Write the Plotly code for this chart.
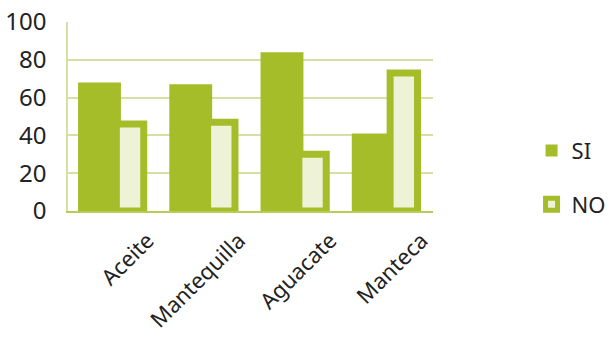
import plotly.graph_objects as go

categories = ["Aceite", "Mantequilla", "Aguacate", "Manteca"]
si_values = [68, 67, 84, 41]
no_values = [46, 47, 30, 73]
y_ticks = [0, 20, 40, 60, 80, 100]

GREEN = "#a6bd2a"
LIGHT = "#eef2d6"
GRID = "#d6e0a3"
FONT = "Noto Sans"

fig = go.Figure()
fig.add_trace(go.Bar(
    x=categories, y=si_values, name="SI",
    marker=dict(color=GREEN, line=dict(width=0)),
    width=0.47, offset=-0.39, legendgroup="si",
))
fig.add_trace(go.Bar(
    x=categories, y=no_values, name="NO",
    marker=dict(color=LIGHT, line=dict(color=GREEN, width=7)),
    width=0.30, offset=0.03, legendgroup="no",
))

fig.update_layout(
    width=614, height=340,
    margin=dict(l=68, r=181, t=22, b=129, autoexpand=False),
    paper_bgcolor="white", plot_bgcolor="white",
    barmode="overlay",
    showlegend=True,
    legend=dict(
        x=1.27, y=0.43, xanchor="left", yanchor="top",
        font=dict(family=FONT, size=22, color="#222"),
        tracegroupgap=22, itemwidth=30,
        bgcolor="rgba(0,0,0,0)",
    ),
    font=dict(family=FONT, color="#222"),
)
fig.update_yaxes(
    range=[0, 100], tickvals=y_ticks,
    showgrid=True, gridcolor=GRID, gridwidth=1.5,
    zeroline=False, automargin=False,
    showline=True, linecolor=GRID, linewidth=1.5,
    tickfont=dict(family=FONT, size=24, color="#222"),
    ticks="", ticklabelstandoff=15,
)
fig.update_xaxes(
    showline=True, linecolor="#b9cc55", linewidth=2,
    showgrid=False, automargin=False,
    tickangle=-45,
    tickfont=dict(family=FONT, size=22, color="#222"),
    ticks="", ticklabelshift=34, ticklabelstandoff=6,
)

fig.write_html("out.html")
